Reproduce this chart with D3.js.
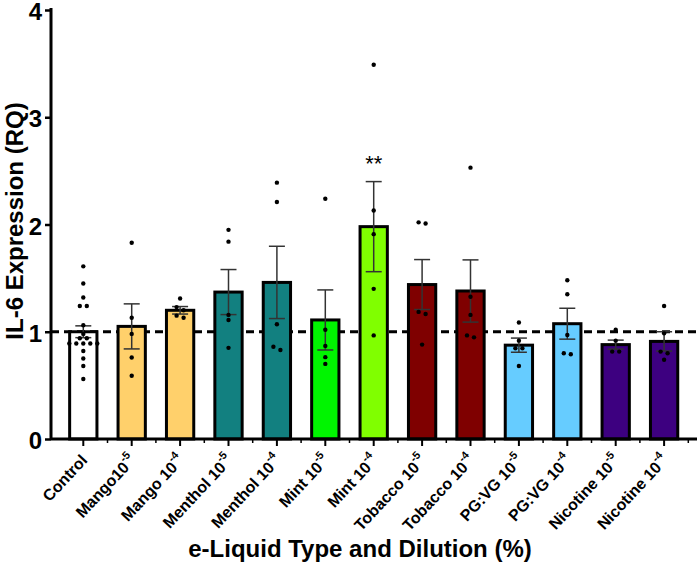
<!DOCTYPE html>
<html>
<head>
<meta charset="utf-8">
<script src="https://cdn.jsdelivr.net/npm/d3@7"></script>
<style>
  html, body { margin: 0; padding: 0; background: #fff; }
  svg { display: block; font-family: "Liberation Sans", Arial, sans-serif; }
</style>
</head>
<body>
<svg id="chart" width="700" height="576"></svg>
<script>
// ---- data ----
const categories = ["Control", "Mango5", "Mango4", "Menthol5", "Menthol4", "Mint5", "Mint4",
  "Tobacco5", "Tobacco4", "PGVG5", "PGVG4", "Nicotine5", "Nicotine4"];
const labelBase = ["Control", "Mango10", "Mango 10", "Menthol 10", "Menthol 10", "Mint 10", "Mint 10",
  "Tobacco 10", "Tobacco 10", "PG:VG 10", "PG:VG 10", "Nicotine 10", "Nicotine 10"];
const labelExp = ["", "-5", "-4", "-5", "-4", "-5", "-4", "-5", "-4", "-5", "-4", "-5", "-4"];
const means = [1.00, 1.05, 1.20, 1.37, 1.46, 1.11, 1.98, 1.44, 1.38, 0.875, 1.075, 0.88, 0.91];
const sems  = [0.055, 0.21, 0.035, 0.21, 0.337, 0.28, 0.42, 0.233, 0.29, 0.066, 0.144, 0.042, 0.09];
const points = [
  [1.61, 1.45, 1.32, 1.24, 1.24, 1.06, 0.98, 0.94, 0.94, 0.89, 0.89, 0.89, 0.89, 0.89, 0.82, 0.75, 0.68, 0.56],
  [1.83, 1.13, 0.98, 0.76, 0.59],
  [1.31, 1.23, 1.20, 1.15, 1.13],
  [1.95, 1.84, 1.157, 1.11, 0.85],
  [2.39, 2.21, 1.07, 0.86, 0.83],
  [2.24, 1.018, 0.868, 0.763, 0.70],
  [3.49, 2.13, 1.91, 1.40, 0.966],
  [2.02, 2.01, 1.185, 1.166, 0.88],
  [2.53, 1.326, 1.157, 0.966, 0.948],
  [1.086, 0.917, 0.846, 0.846, 0.68],
  [1.48, 1.35, 0.97, 0.80, 0.79],
  [1.018, 0.917, 0.815, 0.815],
  [1.24, 0.985, 0.815, 0.80, 0.739]
];
const colors = ["#FFFFFF", "#FFD06B", "#FFD06B", "#128080", "#128080", "#00F500", "#80FF00",
  "#7F0000", "#7F0000", "#66CCFF", "#66CCFF", "#3D0080", "#3D0080"];
const sigLabels = ["", "", "", "", "", "", "**", "", "", "", "", "", ""];
const yTicks = [0, 1, 2, 3, 4];
const refLine = 1;
const yTitle = "IL-6 Expression (RQ)";
const xTitle = "e-Liquid Type and Dilution (%)";

// ---- layout ----
const svg = d3.select("#chart");
const axisX = 51, axisY0 = 439, axisTop = 10;
const x = d3.scaleBand().domain(categories).range([59.1, 688.3]).paddingInner(0.436).paddingOuter(0.218);
const y = d3.scaleLinear().domain([0, 4]).range([axisY0, axisTop]);

// reference dashed line
svg.append("line")
  .attr("x1", axisX).attr("x2", 697)
  .attr("y1", y(refLine)).attr("y2", y(refLine))
  .attr("stroke", "#000").attr("stroke-width", 3)
  .attr("stroke-dasharray", "8,5");

// bars
svg.append("g").selectAll("rect").data(categories).join("rect")
  .attr("x", d => x(d))
  .attr("width", x.bandwidth())
  .attr("y", (d, i) => y(means[i]))
  .attr("height", (d, i) => y(0) - y(means[i]))
  .attr("fill", (d, i) => colors[i])
  .attr("stroke", "#000").attr("stroke-width", 3);

// error bars
const eg = svg.append("g").attr("stroke", "#333").attr("stroke-width", 1.5);
categories.forEach((c, i) => {
  const cx = x(c) + x.bandwidth() / 2;
  eg.append("line").attr("x1", cx).attr("x2", cx)
    .attr("y1", y(means[i] - sems[i])).attr("y2", y(means[i] + sems[i]));
  [means[i] - sems[i], means[i] + sems[i]].forEach(v => {
    eg.append("line").attr("x1", cx - 8).attr("x2", cx + 8)
      .attr("y1", y(v)).attr("y2", y(v));
  });
});

// points (simple deterministic swarm: spread points with nearly equal pixel y)
const pg = svg.append("g");
categories.forEach((c, i) => {
  const cx = x(c) + x.bandwidth() / 2;
  const sorted = points[i].slice().sort((a, b) => b - a);
  const groups = [];
  sorted.forEach(v => {
    const py = y(v);
    const g = groups[groups.length - 1];
    if (g && Math.abs(py - y(g[0])) < 4) g.push(v); else groups.push([v]);
  });
  groups.forEach(g => {
    g.forEach((v, k) => {
      pg.append("circle")
        .attr("cx", cx + (k - (g.length - 1) / 2) * 7)
        .attr("cy", y(v)).attr("r", 2.2).attr("fill", "#000");
    });
  });
});

// significance
svg.append("g").selectAll("text").data(categories).join("text")
  .attr("x", d => x(d) + x.bandwidth() / 2)
  .attr("y", (d, i) => y(means[i] + sems[i]) - 11)
  .attr("text-anchor", "middle")
  .attr("font-size", 22)
  .text((d, i) => sigLabels[i]);

// y axis
const yAxis = svg.append("g").attr("transform", `translate(${axisX},0)`)
  .call(d3.axisLeft(y).tickValues(yTicks).tickSize(6).tickPadding(3).tickFormat(d3.format("d")));
yAxis.select(".domain").attr("stroke-width", 3).attr("d", `M0,${axisY0}V${axisTop - 2}`);
yAxis.selectAll(".tick line").attr("stroke-width", 2.5);
yAxis.selectAll(".tick text").attr("font-size", 24).attr("font-weight", "bold").attr("dy", "0.4em")
  .attr("font-family", "'Liberation Sans', Arial, sans-serif").attr("fill", "#000");

// x axis
const xAxis = svg.append("g").attr("transform", `translate(0,${axisY0})`)
  .call(d3.axisBottom(x).tickSize(7).tickFormat(""));
xAxis.select(".domain").attr("stroke-width", 3).attr("d", `M${axisX},0H697`);
xAxis.selectAll(".tick line").attr("stroke-width", 2);
// minor ticks between bars
xAxis.append("g").selectAll("line").data(categories).join("line")
  .attr("x1", d => x(d) + x.bandwidth() + x.step() * 0.218)
  .attr("x2", d => x(d) + x.bandwidth() + x.step() * 0.218)
  .attr("y1", 0).attr("y2", 4).attr("stroke", "#000").attr("stroke-width", 1.5);

// x tick labels (rotated)
const lg = svg.append("g");
categories.forEach((c, i) => {
  const cx = x(c) + x.bandwidth() / 2;
  const t = lg.append("text")
    .attr("transform", `translate(${cx + 5},${axisY0 + 22}) rotate(-47)`)
    .attr("text-anchor", "end")
    .attr("font-size", 16).attr("font-weight", "bold");
  t.append("tspan").text(labelBase[i]);
  if (labelExp[i]) {
    t.append("tspan").attr("font-size", 11).attr("dy", -8).text(labelExp[i]);
  }
});

// titles
svg.append("text")
  .attr("transform", `translate(23,${221}) rotate(-90)`)
  .attr("text-anchor", "middle")
  .attr("font-size", 24).attr("font-weight", "bold")
  .text(yTitle);
svg.append("text")
  .attr("x", 360).attr("y", 557)
  .attr("text-anchor", "middle")
  .attr("font-size", 24).attr("font-weight", "bold")
  .text(xTitle);
</script>
</body>
</html>
